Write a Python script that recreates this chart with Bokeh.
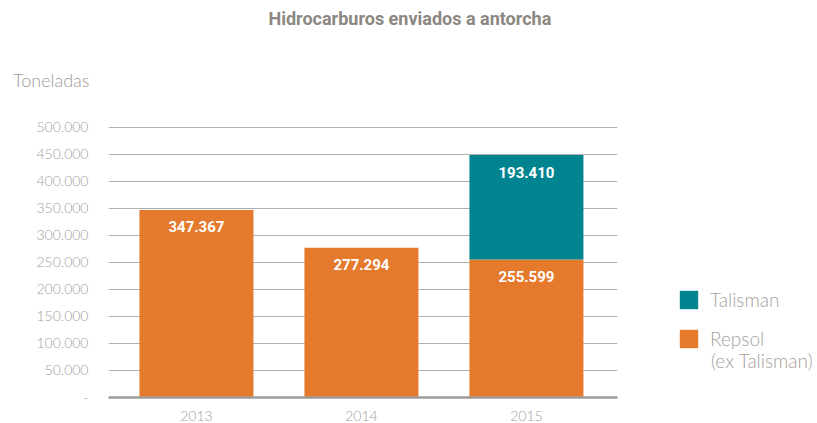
from bokeh.plotting import figure
from bokeh.layouts import row
from bokeh.models import (ColumnDataSource, Range1d, FixedTicker, Legend, LegendItem,
                          Title, Label)
from bokeh.core.properties import value
from bokeh.embed import file_html
from bokeh.resources import INLINE

# ---- data ----
title_text = "Hidrocarburos enviados a antorcha"
unit_text = "Toneladas"
years = ["2013", "2014", "2015"]
repsol = [347367, 277294, 255599]
talisman = [0, 0, 193410]
series_names = ["Talisman", "Repsol"]
series_notes = ["", "(ex Talisman)"]
y_ticks = [0, 50000, 100000, 150000, 200000, 250000, 300000, 350000, 400000, 450000, 500000]

ORANGE = "#E57A2D"
TEAL = "#008590"
GRID = "#b3afaa"
TICK_TXT = "#a29e99"
LEG_TXT = "#a5a19c"
LIGHT_FONT = "Lato Light, Lato"


def fmt(v):
    return "-" if v == 0 else f"{v:,}".replace(",", ".")


xpos = list(range(len(years)))
src = ColumnDataSource(dict(x=xpos, repsol=repsol, talisman=talisman))

lx, ly, lt = [], [], []
for i in xpos:
    if repsol[i] > 0:
        lx.append(i); ly.append(repsol[i]); lt.append(fmt(repsol[i]))
    if talisman[i] > 0:
        lx.append(i); ly.append(repsol[i] + talisman[i]); lt.append(fmt(talisman[i]))
lab_src = ColumnDataSource(dict(x=lx, y=ly, text=lt))

# ---- main chart ----
p = figure(width=677, height=423, output_backend="svg", toolbar_location=None,
           x_range=Range1d(-0.533, 2.552), y_range=Range1d(0, 501850),
           min_border_left=108, min_border_right=60, min_border_top=126,
           min_border_bottom=26, title=None)
p.outline_line_color = None
p.background_fill_color = "white"
p.border_fill_color = "white"

rs = p.vbar_stack(["repsol", "talisman"], x="x", width=0.691, source=src,
                  color=[ORANGE, TEAL], line_color=None)

p.text(x="x", y="y", text="text", source=lab_src, text_align="center",
       text_baseline="middle", y_offset=17, text_color="white",
       text_font=value("Roboto"), text_font_style="bold", text_font_size="15px")

p.xgrid.visible = False
p.ygrid.ticker = FixedTicker(ticks=y_ticks)
p.ygrid.grid_line_color = GRID
p.ygrid.grid_line_width = 1

p.yaxis.ticker = FixedTicker(ticks=y_ticks)
p.yaxis.major_label_overrides = {t: fmt(t) for t in y_ticks}
p.yaxis.axis_line_color = None
p.yaxis.major_tick_line_color = None
p.yaxis.minor_tick_line_color = None
p.yaxis.major_label_standoff = 14
p.yaxis.major_label_text_font = LIGHT_FONT
p.yaxis.major_label_text_font_size = "14px"
p.yaxis.major_label_text_color = TICK_TXT

p.xaxis.ticker = FixedTicker(ticks=xpos)
p.xaxis.major_label_overrides = {i: years[i] for i in xpos}
p.xaxis.axis_line_color = "#9f9b96"
p.xaxis.axis_line_width = 2.5
p.xaxis.major_tick_line_color = None
p.xaxis.minor_tick_line_color = None
p.xaxis.major_label_standoff = 7
p.xaxis.major_label_text_font = LIGHT_FONT
p.xaxis.major_label_text_font_size = "14px"
p.xaxis.major_label_text_color = TICK_TXT

p.add_layout(Title(text=unit_text, align="left", offset=-95.5, standoff=72,
                   text_font=LIGHT_FONT, text_font_style="normal", text_font_size="18px",
                   text_color="#9d9994"), "above")
p.add_layout(Title(text=title_text, align="left", offset=160, standoff=4,
                   text_font="Roboto", text_font_style="bold", text_font_size="18px",
                   text_color="#8c8781"), "above")

# ---- legend panel ----
lf = figure(width=140, height=423, output_backend="svg", toolbar_location=None,
            x_range=Range1d(0, 140), y_range=Range1d(423, 0),
            x_axis_type=None, y_axis_type=None,
            min_border_left=0, min_border_right=0, min_border_top=0, min_border_bottom=0)
lf.outline_line_color = None
lf.grid.visible = False
lf.background_fill_color = "white"
lf.border_fill_color = "white"

# legend keys: same series, not drawn in this panel (only their legend swatches)
key_t = lf.vbar(x="x", top="talisman", width=0.691, source=src, color=TEAL,
                line_color=None, visible=False)
key_r = lf.vbar(x="x", top="repsol", width=0.691, source=src, color=ORANGE,
                line_color=None, visible=False)

legend = Legend(items=[LegendItem(label=series_names[0], renderers=[key_t]),
                       LegendItem(label=series_names[1], renderers=[key_r])],
                location=(0, 47), orientation="vertical",
                glyph_width=23, glyph_height=23, label_height=23,
                label_standoff=10, spacing=16, padding=0, margin=0,
                border_line_color=None, background_fill_alpha=0,
                inactive_fill_alpha=0,
                label_text_font=LIGHT_FONT, label_text_font_size="19px",
                label_text_color=LEG_TXT)
lf.add_layout(legend, "center")
lf.add_layout(Label(x=33.5, y=366, text=series_notes[1], text_align="left",
                    text_baseline="alphabetic", text_font=LIGHT_FONT,
                    text_font_size="19px", text_color=LEG_TXT))

layout = row(p, lf)
open("out.html", "w").write(file_html(layout, INLINE))
